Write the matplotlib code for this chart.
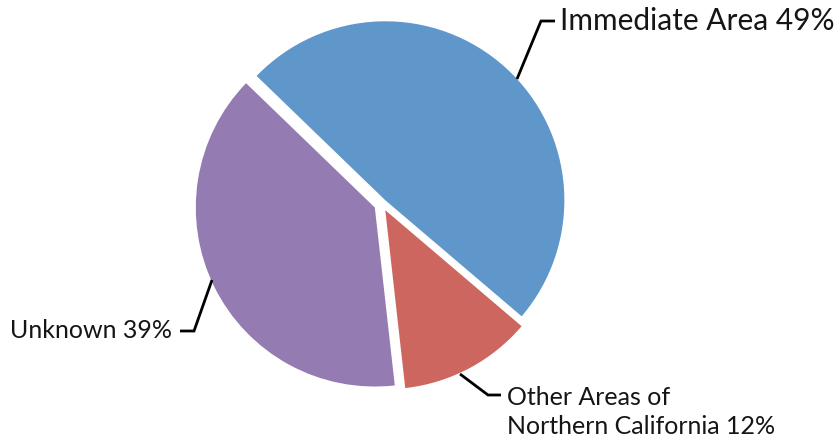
import matplotlib
matplotlib.use("Agg")
import matplotlib.pyplot as plt

labels = ["Immediate Area 49%", "Other Areas of\nNorthern California 12%", "Unknown 39%"]
shares = [49, 12, 39]
colors = ["#5f97cb", "#cc665e", "#947bb1"]

W, H = 840, 439
fig = plt.figure(figsize=(W / 100, H / 100), dpi=100)
ax = fig.add_axes([0, 0, 1, 1])


def py(y):
    # image y (down) -> axes y (up)
    return H - y


# pie laid out in pixel units
cx, cy, R = 382, py(205), 179
ax.pie(shares, colors=colors, startangle=136, counterclock=False,
       center=(cx, cy), radius=R, explode=[5, 7, 8],
       wedgeprops=dict(linewidth=0))

font = dict(family=["Lato", "DejaVu Sans"], color="#151515", va="baseline", ha="left")
line = dict(color="black", lw=2.0, solid_capstyle="butt", solid_joinstyle="miter")

# Immediate Area
ax.plot([517, 541, 555], [py(80), py(22), py(22)], **line)
ax.text(560, py(30), labels[0], fontsize=21.5, **font)

# Unknown
ax.plot([212, 194, 180], [py(281), py(332), py(332)], **line)
ax.text(10, py(338), labels[2], fontsize=18, **font)

# Other Areas of Northern California
ax.plot([460, 488, 501], [py(375), py(396), py(396)], **line)
for i, part in enumerate(labels[1].split("\n")):
    ax.text(507, py(405 + 29 * i), part, fontsize=18, **font)

ax.set_xlim(0, W)
ax.set_ylim(0, H)
ax.set_aspect("equal")
ax.axis("off")

fig.savefig("out.png", dpi=100)
